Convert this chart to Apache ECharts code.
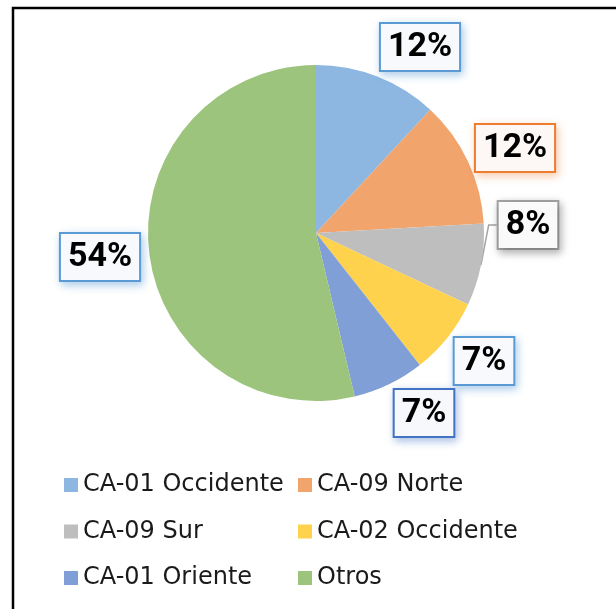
<!DOCTYPE html>
<html>
<head>
<meta charset="utf-8">
<script src="https://cdn.jsdelivr.net/npm/echarts@6/dist/echarts.min.js"></script>
<style>
html,body{margin:0;padding:0;background:#fff;}
#chart{width:616px;height:609px;}
</style>
</head>
<body>
<div id="chart"></div>
<script>
// Data
const categories = ['CA-01 Occidente', 'CA-09 Norte', 'CA-09 Sur', 'CA-02 Occidente', 'CA-01 Oriente', 'Otros'];
const values = [11.9, 12.2, 7.9, 7.4, 6.9, 53.7];
const leftLegend = ['CA-01 Occidente', 'CA-09 Sur', 'CA-01 Oriente'];
const rightLegend = ['CA-09 Norte', 'CA-02 Occidente', 'Otros'];

// Styles
const sliceColors = ['#8DB7E1', '#F1A46C', '#BEBEBE', '#FFD24E', '#7F9FD6', '#9DC47C'];
const labelBorders = ['#5B9BD5', '#ED7D31', '#A5A5A5', '#5B9BD5', '#4472C4', '#5B9BD5'];
const labelBgs = ['#F7F9FD', '#FDF8F5', '#FAFAFA', '#F7F9FD', '#F6F8FC', '#F7F9FD'];
const labelShadows = ['rgba(91,155,213,0.45)', 'rgba(237,125,49,0.35)', 'rgba(0,0,0,0.28)', 'rgba(91,155,213,0.45)', 'rgba(68,114,196,0.4)', 'rgba(91,155,213,0.45)'];
const labelCenters = [[420, 47], [515, 148], [528, 225], [484, 361], [424, 413], [100, 257]];

const seriesData = categories.map((name, i) => ({
  name: name,
  value: values[i],
  itemStyle: { color: sliceColors[i] },
  label: {
    borderColor: labelBorders[i],
    backgroundColor: labelBgs[i],
    shadowColor: labelShadows[i]
  },
  labelLine: { show: i === 2 }
}));

const legendText = { color: '#1a1a1a', fontFamily: 'DejaVu Sans', fontSize: 24, lineHeight: 28 };

const chart = echarts.init(document.getElementById('chart'), null, { renderer: 'canvas' });
chart.setOption({
  backgroundColor: '#ffffff',
  animation: false,
  graphic: [{
    type: 'rect',
    shape: { x: 13, y: 8, width: 700, height: 700 },
    style: { fill: 'none', stroke: '#000', lineWidth: 2.5 },
    silent: true
  }],
  legend: [{
    data: leftLegend,
    orient: 'vertical',
    left: 59,
    top: 466,
    itemWidth: 14,
    itemHeight: 14,
    itemGap: 18.5,
    icon: 'rect',
    selectedMode: false,
    textStyle: legendText
  }, {
    data: rightLegend,
    orient: 'vertical',
    left: 293,
    top: 466,
    itemWidth: 14,
    itemHeight: 14,
    itemGap: 18.5,
    icon: 'rect',
    selectedMode: false,
    textStyle: legendText
  }],
  series: [{
    type: 'pie',
    center: [316, 233],
    radius: 168,
    startAngle: 90,
    clockwise: true,
    avoidLabelOverlap: false,
    data: seriesData,
    itemStyle: { borderWidth: 0 },
    emphasis: { disabled: true },
    label: {
      show: true,
      position: 'outside',
      formatter: p => Math.round(p.percent) + '%',
      fontFamily: 'Roboto',
      fontWeight: 'bold',
      fontSize: 34,
      lineHeight: 34,
      color: '#000',
      padding: [6, 7],
      borderWidth: 2,
      shadowBlur: 8,
      shadowOffsetX: 2,
      shadowOffsetY: 3
    },
    labelLine: {
      show: false,
      length: 6,
      length2: 8,
      lineStyle: { color: '#A5A5A5', width: 1.5 }
    },
    labelLayout: function (params) {
      const c = labelCenters[params.dataIndex];
      return { x: c[0], y: c[1], align: 'center', verticalAlign: 'middle', hideOverlap: false };
    }
  }]
});
</script>
</body>
</html>
